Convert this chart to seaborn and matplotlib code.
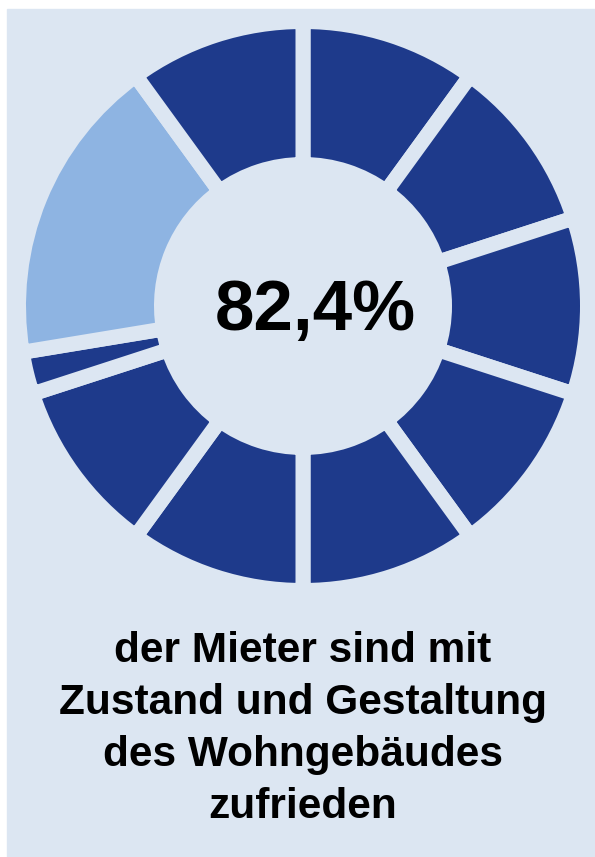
import matplotlib.pyplot as plt
import seaborn as sns
from matplotlib.patches import Rectangle

# data: donut pieces clockwise from 12 o'clock (percent)
pieces = [10, 10, 10, 10, 10, 10, 10, 2.4, 17.6, 10]
satisfied = [True, True, True, True, True, True, True, True, False, True]
share_label = "82,4%"
caption_lines = ["der Mieter sind mit", "Zustand und Gestaltung",
                 "des Wohngebäudes", "zufrieden"]

BG = "#dce6f2"
DARK = "#1e3a8b"
LIGHT = "#8eb4e2"

sns.set_style("white")
plt.rcParams["font.family"] = ["Liberation Sans", "DejaVu Sans"]

W, H = 595, 857
fig = plt.figure(figsize=(W / 100, H / 100), dpi=100)
fig.patch.set_facecolor("white")
fig.patches.append(Rectangle((7 / W, 0), 1 - 7 / W, 1 - 9 / H,
                             transform=fig.transFigure, color=BG, zorder=-5))

# donut axes, pixel units, centre at (303, 306) from top
cx, cy, half = 303, 306, 300
ax = fig.add_axes([(cx - half) / W, 1 - (cy + half) / H, 2 * half / W, 2 * half / H])
ax.set_zorder(2)
ax.patch.set_visible(False)
ax.axis("off")

gap = 15
colors = [DARK if s else LIGHT for s in satisfied]
ax.pie(pieces, colors=colors, startangle=90, counterclock=False,
       radius=277 + gap / 2,
       wedgeprops=dict(width=128 + gap, edgecolor=BG, linewidth=gap * 0.72))
ax.set_xlim(-half, half)
ax.set_ylim(-half, half)
ax.set_aspect("equal")

ax.text(12, -6, share_label, ha="center", va="center",
        fontsize=51, fontweight="bold", color="black")

for i, line in enumerate(caption_lines):
    fig.text(303 / W, 1 - (651 + i * 52) / H, line, ha="center", va="center",
             fontsize=30.5, fontweight="bold", color="black", zorder=3)

fig.savefig("out.png", dpi=100, facecolor=fig.get_facecolor())
